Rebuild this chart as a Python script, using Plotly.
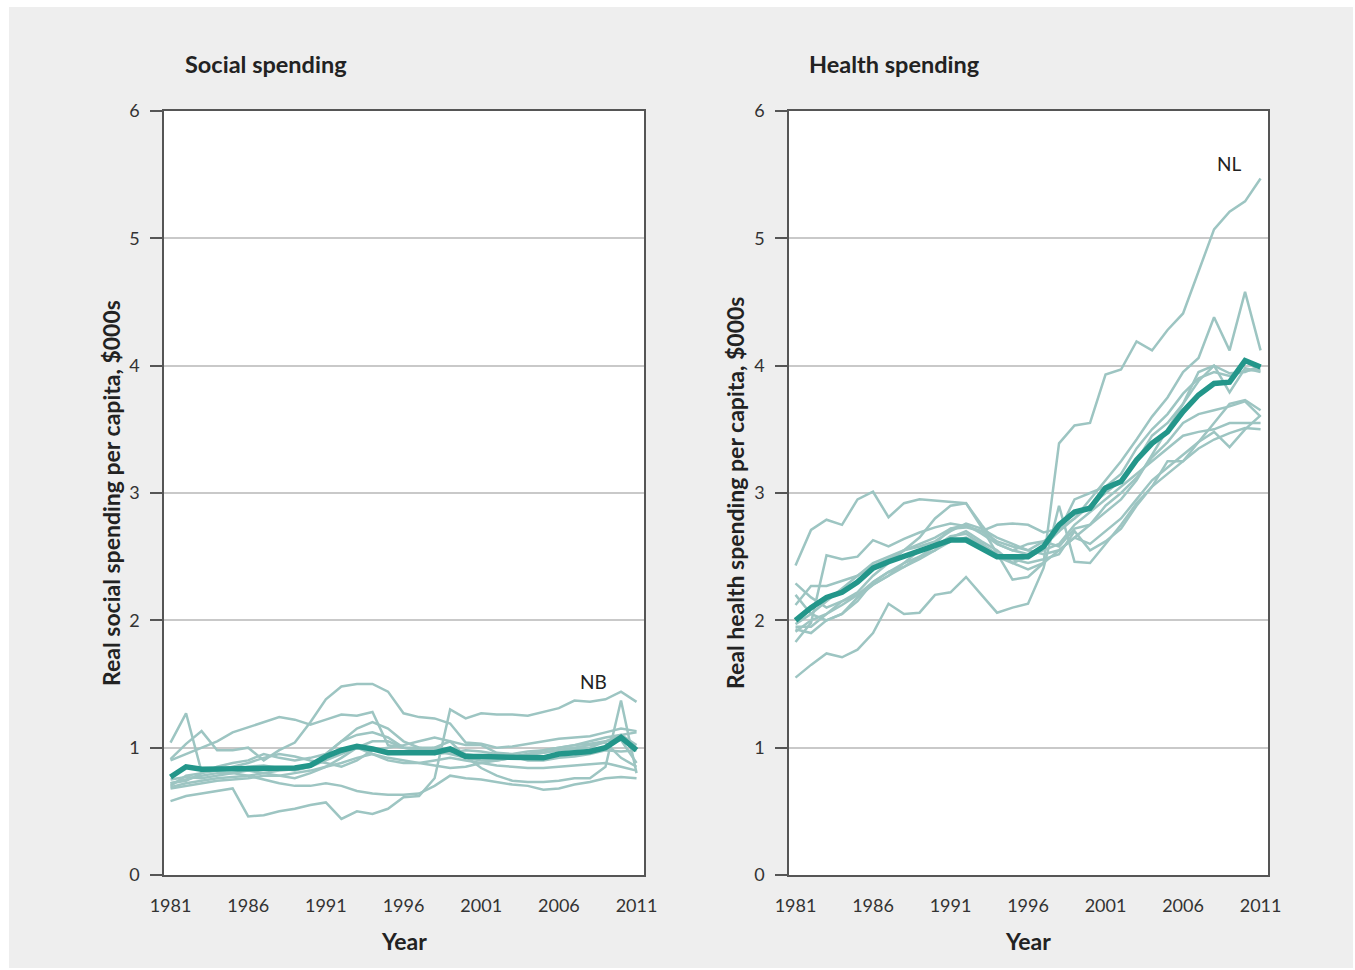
import plotly.graph_objects as go

years = list(range(1981, 2012))
x_tick_vals = [1981, 1986, 1991, 1996, 2001, 2006, 2011]
y_tick_vals = [0, 1, 2, 3, 4, 5, 6]

social_canada = [0.77,0.85,0.83,0.83,0.84,0.83,0.83,0.84,0.84,0.86, 0.93,0.98,1.01,0.99,0.96,0.96,0.96,0.96,0.99,0.93,
                 0.93,0.93,0.92,0.92,0.92,0.95,0.96,0.97,1.00,1.08, 0.98]
social_nb = [0.58,0.62,0.64,0.66,0.68,0.46,0.47,0.50,0.52,0.55, 0.57,0.44,0.50,0.48,0.52,0.61,0.62,0.76,1.30,1.23,
             1.27,1.26,1.26,1.25,1.28,1.31,1.37,1.36,1.38,1.44, 1.36]
social_p2 = [0.91,1.03,1.13,0.98,0.98,1.00,0.90,0.98,1.04,1.20, 1.38,1.48,1.50,1.50,1.44,1.27,1.24,1.23,1.19,1.04,
             1.03,1.00,1.01,1.03,1.05,1.07,1.08,1.09,1.12,1.15, 1.13]
social_p3 = [0.90,0.95,1.00,1.05,1.12,1.16,1.20,1.24,1.22,1.18, 1.22,1.26,1.25,1.28,1.02,1.00,1.00,1.00,0.98,0.95,
             0.93,0.92,0.93,0.95,0.96,0.98,0.99,1.00,1.05,1.10, 1.12]
social_p4 = [1.04,1.27,0.81,0.82,0.83,0.85,0.86,0.84,0.82,0.85, 0.95,1.05,1.15,1.20,1.15,1.05,1.00,0.98,0.95,0.92,
             0.90,0.90,0.92,0.95,0.98,1.00,1.02,1.05,1.08,1.10, 1.02]
social_p5 = [0.72,0.75,0.78,0.80,0.80,0.78,0.80,0.82,0.83,0.85, 0.90,0.95,1.00,1.05,1.05,1.00,0.98,1.00,1.05,0.93,
             0.84,0.78,0.74,0.73,0.73,0.74,0.76,0.76,0.85,1.37, 0.80]
social_p6 = [0.69,0.72,0.74,0.76,0.77,0.78,0.75,0.72,0.70,0.70, 0.72,0.70,0.66,0.64,0.63,0.63,0.64,0.70,0.78,0.76,
             0.75,0.73,0.71,0.70,0.67,0.68,0.71,0.73,0.76,0.77, 0.76]
social_p7 = [0.70,0.78,0.80,0.82,0.85,0.88,0.92,0.95,0.93,0.90, 0.88,0.85,0.90,0.98,1.00,1.02,1.05,1.08,1.05,1.02,
             1.02,0.96,0.95,0.97,0.98,1.00,1.02,1.03,1.05,1.06, 0.88]
social_p8 = [0.75,0.77,0.76,0.78,0.80,0.82,0.80,0.78,0.76,0.80, 0.85,0.92,1.00,0.95,0.90,0.88,0.88,0.86,0.84,0.85,
             0.88,0.90,0.92,0.94,0.96,0.98,1.00,1.02,1.04,0.92, 0.85]
social_p9 = [0.68,0.70,0.72,0.74,0.75,0.76,0.78,0.78,0.80,0.82, 0.85,0.88,0.92,0.95,0.92,0.90,0.88,0.90,0.92,0.90,
             0.88,0.86,0.85,0.84,0.84,0.85,0.86,0.87,0.88,0.85, 0.82]
social_p10 = [0.72,0.74,0.80,0.85,0.88,0.90,0.95,0.92,0.90,0.92, 0.95,1.05,1.10,1.12,1.08,1.00,0.98,0.95,0.96,0.98,
              0.97,0.95,0.93,0.90,0.90,0.92,0.93,0.95,0.98,0.97, 0.98]

health_canada = [2.00,2.10,2.18,2.22,2.30,2.41,2.46,2.50,2.55,2.58, 2.63,2.63,2.57,2.50,2.50,2.50,2.58,2.75,2.85,2.88,
                 3.04,3.09,3.26,3.39,3.48,3.64,3.77,3.86,3.87,4.04, 3.99]
health_nl = [2.43,2.71,2.79,2.75,2.95,3.01,2.81,2.92,2.95,2.94, 2.93,2.92,2.73,2.53,2.32,2.34,2.45,3.39,3.53,3.55,
             3.93,3.97,4.19,4.12,4.28,4.41,4.74,5.07,5.21,5.29, 5.47]
health_p2 = [1.55,1.65,1.74,1.71,1.77,1.90,2.13,2.05,2.06,2.20, 2.22,2.34,2.20,2.06,2.10,2.13,2.41,2.90,2.46,2.45,
             2.60,2.75,2.92,3.05,3.15,3.25,3.35,3.42,3.47,3.51, 3.50]
health_p3 = [1.83,1.98,2.51,2.48,2.50,2.63,2.58,2.64,2.69,2.73, 2.76,2.74,2.70,2.62,2.58,2.55,2.62,2.70,2.80,2.95,
             3.10,3.25,3.42,3.60,3.75,3.95,4.06,4.38,4.12,4.58, 4.12]
health_p4 = [2.29,2.18,2.10,2.15,2.22,2.35,2.45,2.55,2.65,2.80, 2.90,2.92,2.75,2.60,2.55,2.52,2.58,2.70,2.95,3.00,
             3.05,3.15,3.35,3.50,3.62,3.78,3.90,3.95,3.92,3.96, 3.97]
health_p5 = [2.12,2.27,2.27,2.31,2.35,2.43,2.48,2.55,2.60,2.65, 2.72,2.73,2.70,2.75,2.76,2.75,2.69,2.72,2.80,2.90,
             3.00,3.10,3.25,3.45,3.55,3.70,3.88,4.00,3.94,3.95, 4.00]
health_p6 = [1.97,2.05,2.15,2.25,2.35,2.45,2.50,2.55,2.58,2.62, 2.70,2.76,2.72,2.65,2.60,2.55,2.52,2.55,2.65,2.75,
             2.85,2.95,3.10,3.30,3.50,3.70,3.95,4.00,3.79,3.98, 3.95]
health_p7 = [1.93,1.90,2.00,2.05,2.15,2.30,2.38,2.45,2.50,2.55, 2.65,2.70,2.62,2.55,2.45,2.40,2.45,2.55,2.65,2.60,
             2.70,2.80,2.95,3.10,3.20,3.30,3.40,3.55,3.70,3.73, 3.65]
health_p8 = [1.91,2.00,2.05,2.15,2.20,2.30,2.38,2.42,2.48,2.55, 2.62,2.65,2.60,2.52,2.48,2.45,2.48,2.52,2.70,2.55,
             2.62,2.72,2.90,3.05,3.25,3.25,3.40,3.48,3.36,3.50, 3.61]
health_p9 = [1.95,1.95,2.05,2.12,2.20,2.28,2.35,2.42,2.50,2.58, 2.66,2.68,2.60,2.50,2.45,2.50,2.55,2.60,2.75,2.85,
             2.95,3.05,3.15,3.25,3.35,3.45,3.48,3.50,3.55,3.55, 3.55]
health_p10 = [2.20,2.05,2.00,2.05,2.18,2.28,2.35,2.45,2.55,2.60, 2.72,2.75,2.68,2.60,2.55,2.60,2.62,2.58,2.72,2.75,
              2.90,3.00,3.12,3.28,3.40,3.55,3.62,3.65,3.68,3.72, 3.60]

social_provinces = [social_nb, social_p2, social_p3, social_p4, social_p5,
                    social_p6, social_p7, social_p8, social_p9, social_p10]
health_provinces = [health_nl, health_p2, health_p3, health_p4, health_p5,
                    health_p6, health_p7, health_p8, health_p9, health_p10]

W, H = 1355, 970
THIN = "#9dc5c2"
THICK = "#23968a"
FONT = "Lato"

def px(x):
    return x / W

def py(y):
    return 1 - y / H

fig = go.Figure()

for series in social_provinces:
    fig.add_trace(go.Scatter(x=years, y=series, mode="lines", xaxis="x", yaxis="y",
                             line=dict(color=THIN, width=2.5), showlegend=False, hoverinfo="skip"))
fig.add_trace(go.Scatter(x=years, y=social_canada, mode="lines", xaxis="x", yaxis="y",
                         line=dict(color=THICK, width=5.5), showlegend=False))
for series in health_provinces:
    fig.add_trace(go.Scatter(x=years, y=series, mode="lines", xaxis="x2", yaxis="y2",
                             line=dict(color=THIN, width=2.5), showlegend=False, hoverinfo="skip"))
fig.add_trace(go.Scatter(x=years, y=health_canada, mode="lines", xaxis="x2", yaxis="y2",
                         line=dict(color=THICK, width=5.5), showlegend=False))

xdom1 = [px(164), px(644)]
xdom2 = [px(789), px(1268)]
ydom = [py(875), py(111)]

xaxis_common = dict(range=[1980.58, 2011.48], tickvals=x_tick_vals, showgrid=False, zeroline=False,
                    showline=True, mirror=True, linecolor="#555555", linewidth=1.5,
                    ticks="outside", ticklen=14, tickcolor="rgba(0,0,0,0)", automargin=False,
                    tickfont=dict(family=FONT, size=18, color="#333333"), fixedrange=True)
yaxis_common = dict(range=[0, 6], tickvals=y_tick_vals, showgrid=True, gridcolor="#c9c9c9", gridwidth=1.5,
                    zeroline=False, showline=True, mirror=True, linecolor="#555555", linewidth=1.5,
                    ticks="outside", ticklen=12, tickcolor="#555555", tickwidth=1.5,
                    ticklabelstandoff=7, automargin=False,
                    tickfont=dict(family=FONT, size=18, color="#333333"), fixedrange=True)

fig.update_layout(
    template="none",
    width=W, height=H, autosize=False,
    margin=dict(l=0, r=0, t=0, b=0, pad=0),
    paper_bgcolor="white", plot_bgcolor="white",
    xaxis=dict(domain=xdom1, anchor="y", **xaxis_common),
    yaxis=dict(domain=ydom, anchor="x", **yaxis_common),
    xaxis2=dict(domain=xdom2, anchor="y2", **xaxis_common),
    yaxis2=dict(domain=ydom, anchor="x2", **yaxis_common),
    shapes=[
        dict(type="rect", xref="paper", yref="paper", x0=px(9), x1=px(1353), y0=py(968), y1=py(7),
             fillcolor="#eeeeee", line=dict(width=0), layer="below"),
        dict(type="rect", xref="paper", yref="paper", x0=xdom1[0], x1=xdom1[1], y0=ydom[0], y1=ydom[1],
             fillcolor="white", line=dict(width=0), layer="below"),
        dict(type="rect", xref="paper", yref="paper", x0=xdom2[0], x1=xdom2[1], y0=ydom[0], y1=ydom[1],
             fillcolor="white", line=dict(width=0), layer="below"),
    ],
)

ann = []
ann.append(dict(text="<b>Social spending</b>", x=px(183), y=py(64), xanchor="left", yanchor="middle",
                font=dict(family=FONT, size=23.5, color="#222222")))
ann.append(dict(text="<b>Health spending</b>", x=px(807), y=py(64), xanchor="left", yanchor="middle",
                font=dict(family=FONT, size=23.5, color="#222222")))
ann.append(dict(text="<b>Real social spending per capita, $000s</b>", x=px(111), y=py(493), textangle=-90,
                xanchor="center", yanchor="middle", font=dict(family=FONT, size=23, color="#222222")))
ann.append(dict(text="<b>Real health spending per capita, $000s</b>", x=px(735), y=py(493), textangle=-90,
                xanchor="center", yanchor="middle", font=dict(family=FONT, size=23, color="#222222")))
ann.append(dict(text="<b>Year</b>", x=px(404), y=py(941), xanchor="center", yanchor="middle",
                font=dict(family=FONT, size=23, color="#222222")))
ann.append(dict(text="<b>Year</b>", x=px(1028), y=py(941), xanchor="center", yanchor="middle",
                font=dict(family=FONT, size=23, color="#222222")))
ann.append(dict(text="NB", x=2008.2, y=1.41, xref="x", yref="y", xanchor="center", yanchor="bottom",
                showarrow=False, font=dict(family=FONT, size=19, color="#222222")))
ann.append(dict(text="NL", x=2009, y=5.48, xref="x2", yref="y2", xanchor="center", yanchor="bottom",
                showarrow=False, font=dict(family=FONT, size=19, color="#222222")))
for a in ann:
    a.setdefault("xref", "paper")
    a.setdefault("yref", "paper")
    a["showarrow"] = False
fig.update_layout(annotations=ann)

fig.write_html("out.html")
